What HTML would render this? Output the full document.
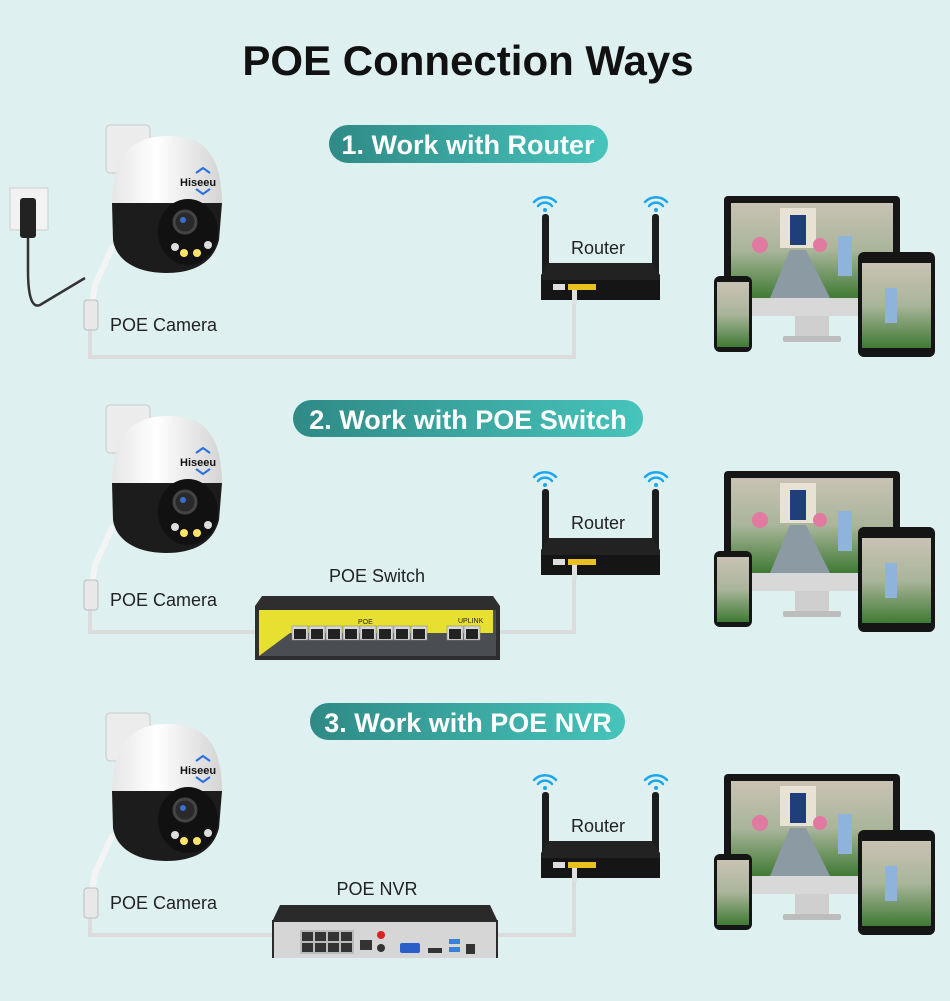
<!DOCTYPE html>
<html><head><meta charset="utf-8"><style>
body{margin:0;background:#dff0f0;}
svg{display:block;font-family:"Liberation Sans",sans-serif;}
</style></head><body>
<svg width="950" height="1001" viewBox="0 0 950 1001" xmlns="http://www.w3.org/2000/svg">
<defs>
<linearGradient id="pill" x1="0" x2="1" y1="0" y2="0"><stop offset="0" stop-color="#2f8a86"/><stop offset="1" stop-color="#46c4bb"/></linearGradient>
<linearGradient id="dome" x1="0" x2="1"><stop offset="0" stop-color="#e6e6e6"/><stop offset="0.4" stop-color="#ffffff"/><stop offset="1" stop-color="#d4d4d4"/></linearGradient>
<linearGradient id="sky" x1="0" x2="0" y1="0" y2="1"><stop offset="0" stop-color="#c9c2b4"/><stop offset="0.5" stop-color="#a9b59a"/><stop offset="1" stop-color="#3f7a34"/></linearGradient>
<g id="cam">
  <rect x="106" y="125" width="44" height="48" rx="4" fill="#ececec" stroke="#c8c8c8"/>
  <path d="M112,205 C112,152 135,136 168,136 C202,136 222,152 222,205 Z" fill="url(#dome)"/>
  <path d="M112,203 L222,203 L219,240 C213,264 192,273 166,273 C136,273 116,260 113,240 Z" fill="#1c1c1c"/>
  <ellipse cx="188" cy="232" rx="30" ry="33" fill="#111"/>
  <circle cx="185" cy="222" r="11" fill="#2a2a2a" stroke="#444" stroke-width="3"/>
  <circle cx="183" cy="220" r="3" fill="#3a6fd0"/>
  <circle cx="175" cy="247" r="4" fill="#ddd"/><circle cx="208" cy="245" r="4" fill="#ddd"/>
  <circle cx="184" cy="253" r="4" fill="#ffe46a"/><circle cx="197" cy="253" r="4" fill="#ffe46a"/>
  <text x="180" y="186" font-size="11" font-weight="bold" fill="#111">Hiseeu</text>
  <path d="M196,173 L203,168 L210,173" fill="none" stroke="#2a6fe0" stroke-width="2"/>
  <path d="M196,189 L203,194 L210,189" fill="none" stroke="#2a6fe0" stroke-width="2"/>
  <path d="M112,248 L95,285 L90,315" fill="none" stroke="#f4f4f4" stroke-width="6" stroke-linecap="round"/>
  <rect x="84" y="300" width="14" height="30" rx="3" fill="#e8e8e8" stroke="#bbb"/>
</g>
<g id="router">
  <g fill="none" stroke="#1aa7f0" stroke-width="2.5" stroke-linecap="round">
    <path d="M534,202 a15,15 0 0 1 22,0"/><path d="M538,206 a9,9 0 0 1 14,0"/>
    <path d="M645,202 a15,15 0 0 1 22,0"/><path d="M649,206 a9,9 0 0 1 14,0"/>
  </g>
  <circle cx="545" cy="210" r="2" fill="#1aa7f0"/><circle cx="656" cy="210" r="2" fill="#1aa7f0"/>
  <rect x="542" y="214" width="7" height="82" rx="3" fill="#1d1d1d"/>
  <rect x="652" y="214" width="7" height="82" rx="3" fill="#1d1d1d"/>
  <path d="M549,263 L652,263 L660,275 L660,300 L541,300 L541,275 Z" fill="#222"/>
  <rect x="541" y="280" width="119" height="20" fill="#151515"/>
  <rect x="553" y="284" width="12" height="6" fill="#ddd"/>
  <rect x="568" y="284" width="28" height="6" fill="#e8c020"/>
  <rect x="572" y="290" width="5" height="14" fill="#e0e0e0"/>
  <text x="598" y="254" font-size="18" text-anchor="middle" fill="#222">Router</text>
</g>
<g id="dev">
  <rect x="724" y="196" width="176" height="118" rx="4" fill="#161616"/>
  <rect x="731" y="203" width="162" height="95" fill="url(#sky)"/>
  <rect x="780" y="208" width="36" height="40" fill="#e8e2d4"/>
  <rect x="790" y="215" width="16" height="30" fill="#1f3f78"/>
  <path d="M770,298 L790,250 L806,250 L830,298 Z" fill="#8c9aa4"/>
  <circle cx="760" cy="245" r="8" fill="#e07aa0"/><circle cx="820" cy="245" r="7" fill="#e07aa0"/>
  <rect x="838" y="236" width="14" height="40" fill="#8eb4dc"/>
  <rect x="724" y="298" width="176" height="18" fill="#d8d8d8"/>
  <rect x="795" y="316" width="34" height="20" fill="#cfcfcf"/>
  <rect x="783" y="336" width="58" height="6" rx="2" fill="#bdbdbd"/>
  <rect x="714" y="276" width="38" height="76" rx="6" fill="#151515"/>
  <rect x="717" y="282" width="32" height="65" fill="url(#sky)"/>
  <rect x="858" y="252" width="77" height="105" rx="6" fill="#151515"/>
  <rect x="862" y="263" width="69" height="85" fill="url(#sky)"/>
  <rect x="885" y="288" width="12" height="35" fill="#8eb4dc"/>
</g>
</defs>

<text x="468" y="75" font-size="42" font-weight="bold" text-anchor="middle" fill="#111">POE Connection Ways</text>

<!-- Section 1 -->
<rect x="329" y="125" width="279" height="38" rx="19" fill="url(#pill)"/>
<text x="468" y="154" font-size="27" font-weight="bold" text-anchor="middle" fill="#fff">1. Work with Router</text>
<path d="M90,330 L90,357 L574,357 L574,302" fill="none" stroke="#dcdcdc" stroke-width="4"/>
<rect x="10" y="188" width="38" height="42" fill="#f2f2f2" stroke="#ccc"/>
<rect x="20" y="198" width="16" height="40" rx="3" fill="#222"/>
<path d="M28,238 L28,270 Q28,310 40,305 L85,278" fill="none" stroke="#333" stroke-width="2.5"/>
<use href="#cam"/>
<text x="110" y="331" font-size="18" fill="#222">POE Camera</text>
<use href="#router"/>
<use href="#dev"/>

<!-- Section 2 -->
<rect x="293" y="400" width="350" height="37" rx="18.5" fill="url(#pill)"/>
<text x="468" y="429" font-size="27" font-weight="bold" text-anchor="middle" fill="#fff">2. Work with POE Switch</text>
<path d="M90,608 L90,632 L256,632 M498,632 L574,632 L574,577" fill="none" stroke="#dcdcdc" stroke-width="4"/>
<use href="#cam" transform="translate(0,280)"/>
<text x="110" y="606" font-size="18" fill="#222">POE Camera</text>
<use href="#router" transform="translate(0,275)"/>
<use href="#dev" transform="translate(0,275)"/>
<text x="377" y="582" font-size="18" text-anchor="middle" fill="#222">POE Switch</text>
<path d="M262,596 L493,596 L500,606 L500,660 L255,660 L255,606 Z" fill="#2e2e2e"/>
<rect x="259" y="610" width="237" height="46" fill="#4a4d52"/>
<path d="M259,610 L493,610 L493,633 L290,633 L259,656 Z" fill="#e8e030"/>
<g fill="#d8d8d8" stroke="#888" stroke-width="0.6">
<rect x="292" y="626" width="16" height="14"/><rect x="309" y="626" width="16" height="14"/><rect x="326" y="626" width="16" height="14"/><rect x="343" y="626" width="16" height="14"/><rect x="360" y="626" width="16" height="14"/><rect x="377" y="626" width="16" height="14"/><rect x="394" y="626" width="16" height="14"/><rect x="411" y="626" width="16" height="14"/>
<rect x="447" y="626" width="16" height="14"/><rect x="464" y="626" width="16" height="14"/>
</g>
<g fill="#222"><rect x="294" y="629" width="12" height="10"/><rect x="311" y="629" width="12" height="10"/><rect x="328" y="629" width="12" height="10"/><rect x="345" y="629" width="12" height="10"/><rect x="362" y="629" width="12" height="10"/><rect x="379" y="629" width="12" height="10"/><rect x="396" y="629" width="12" height="10"/><rect x="413" y="629" width="12" height="10"/><rect x="449" y="629" width="12" height="10"/><rect x="466" y="629" width="12" height="10"/></g>
<text x="358" y="624" font-size="7" fill="#222">POE</text><text x="458" y="623" font-size="7" fill="#222">UPLINK</text>

<!-- Section 3 -->
<rect x="310" y="703" width="315" height="37" rx="18.5" fill="url(#pill)"/>
<text x="468" y="732" font-size="27" font-weight="bold" text-anchor="middle" fill="#fff">3. Work with POE NVR</text>
<path d="M90,912 L90,935 L272,935 M498,935 L574,935 L574,880" fill="none" stroke="#dcdcdc" stroke-width="4"/>
<use href="#cam" transform="translate(0,588)"/>
<text x="110" y="909" font-size="18" fill="#222">POE Camera</text>
<use href="#router" transform="translate(0,578)"/>
<use href="#dev" transform="translate(0,578)"/>
<text x="377" y="895" font-size="18" text-anchor="middle" fill="#222">POE NVR</text>
<path d="M280,905 L490,905 L498,922 L272,922 Z" fill="#2a2a2a"/>
<rect x="272" y="920" width="226" height="38" fill="#2a2a2a"/>
<rect x="274" y="922" width="222" height="36" fill="#d6d6d6"/>
<rect x="300" y="930" width="54" height="24" fill="#bbb"/>
<g fill="#333"><rect x="302" y="932" width="11" height="9"/><rect x="315" y="932" width="11" height="9"/><rect x="328" y="932" width="11" height="9"/><rect x="341" y="932" width="11" height="9"/><rect x="302" y="943" width="11" height="9"/><rect x="315" y="943" width="11" height="9"/><rect x="328" y="943" width="11" height="9"/><rect x="341" y="943" width="11" height="9"/><rect x="360" y="940" width="12" height="10"/><rect x="428" y="948" width="14" height="5"/><rect x="466" y="944" width="9" height="10"/></g>
<circle cx="381" cy="935" r="4" fill="#d22"/><circle cx="381" cy="948" r="4" fill="#333"/>
<rect x="400" y="943" width="20" height="10" rx="2" fill="#2a5ec8"/>
<rect x="449" y="939" width="11" height="5" fill="#3a7fd8"/><rect x="449" y="947" width="11" height="5" fill="#3a7fd8"/>
</svg>
</body></html>
